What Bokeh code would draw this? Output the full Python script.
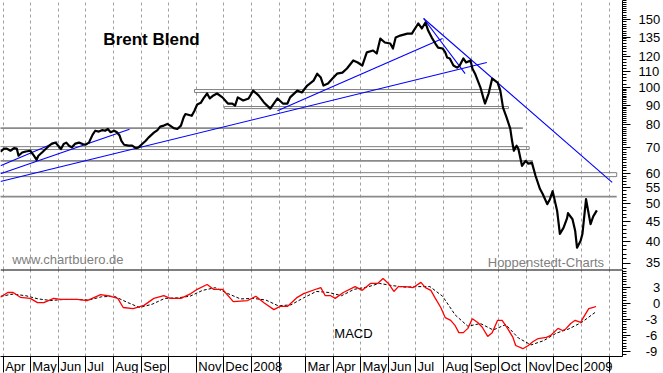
import pandas as pd
from bokeh.plotting import figure
from bokeh.models import Range1d, FixedTicker, Label, Span
from bokeh.layouts import column
from bokeh.embed import file_html
from bokeh.resources import INLINE

# ---------------- data ----------------
price_dates = [
    "2007-03-29", "2007-04-02", "2007-04-05", "2007-04-09", "2007-04-13", "2007-04-16", "2007-04-18", "2007-04-22", "2007-04-26", "2007-05-01",
    "2007-05-05", "2007-05-08", "2007-05-10", "2007-05-14", "2007-05-18", "2007-05-22", "2007-05-25", "2007-05-29", "2007-06-01", "2007-06-04",
    "2007-06-07", "2007-06-10", "2007-06-13", "2007-06-16", "2007-06-20", "2007-06-24", "2007-06-28", "2007-07-01", "2007-07-05", "2007-07-09",
    "2007-07-12", "2007-07-16", "2007-07-20", "2007-07-23", "2007-07-26", "2007-07-29", "2007-08-02", "2007-08-05", "2007-08-08", "2007-08-10",
    "2007-08-13", "2007-08-18", "2007-08-22", "2007-08-26", "2007-08-29", "2007-09-02", "2007-09-06", "2007-09-09", "2007-09-15", "2007-09-19",
    "2007-09-22", "2007-09-26", "2007-09-30", "2007-10-03", "2007-10-07", "2007-10-11", "2007-10-15", "2007-10-18", "2007-10-20", "2007-10-24",
    "2007-10-27", "2007-10-30", "2007-11-02", "2007-11-06", "2007-11-09", "2007-11-13", "2007-11-16", "2007-11-20", "2007-11-24", "2007-11-30",
    "2007-12-06", "2007-12-11", "2007-12-14", "2007-12-17", "2007-12-23", "2007-12-29", "2008-01-03", "2008-01-09", "2008-01-15", "2008-01-22",
    "2008-01-30", "2008-02-05", "2008-02-10", "2008-02-13", "2008-02-21", "2008-02-26", "2008-03-03", "2008-03-10", "2008-03-14", "2008-03-18",
    "2008-03-21", "2008-03-26", "2008-03-31", "2008-04-05", "2008-04-11", "2008-04-16", "2008-04-23", "2008-04-28", "2008-05-03", "2008-05-08",
    "2008-05-15", "2008-05-19", "2008-05-23", "2008-05-28", "2008-06-03", "2008-06-06", "2008-06-09", "2008-06-14", "2008-06-22", "2008-06-27",
    "2008-06-29", "2008-07-04", "2008-07-08", "2008-07-12", "2008-07-15", "2008-07-19", "2008-07-23", "2008-07-26", "2008-07-31", "2008-08-03",
    "2008-08-05", "2008-08-08", "2008-08-12", "2008-08-16", "2008-08-19", "2008-08-23", "2008-08-26", "2008-08-31", "2008-09-02", "2008-09-05",
    "2008-09-11", "2008-09-14", "2008-09-16", "2008-09-20", "2008-09-24", "2008-09-30", "2008-10-03", "2008-10-06", "2008-10-10", "2008-10-14",
    "2008-10-16", "2008-10-18", "2008-10-21", "2008-10-23", "2008-10-27", "2008-10-31", "2008-11-03", "2008-11-07", "2008-11-11", "2008-11-16",
    "2008-11-19", "2008-11-24", "2008-11-27", "2008-11-30", "2008-12-05", "2008-12-08", "2008-12-12", "2008-12-16", "2008-12-17", "2008-12-22",
    "2008-12-25", "2008-12-27", "2008-12-31", "2009-01-02", "2009-01-06", "2009-01-11", "2009-01-14", "2009-01-18",
]
price_values = [
    68.2, 69.5, 69.5, 68.6, 69.7, 69.5, 66.6, 67.9, 68.3, 68.6,
    66.6, 65.0, 66.6, 67.9, 69.3, 70.7, 71.6, 72.0, 70.7, 69.3,
    71.4, 72.0, 70.7, 70.0, 71.6, 72.0, 71.4, 71.1, 72.0, 75.4,
    77.3, 76.9, 77.6, 77.3, 78.1, 76.6, 77.3, 76.6, 75.1, 72.8,
    71.1, 70.7, 70.7, 69.7, 70.0, 71.4, 72.8, 74.2, 76.4, 77.6,
    79.2, 79.7, 80.5, 79.7, 78.5, 78.1, 79.7, 83.7, 85.4, 84.9,
    84.5, 87.1, 90.4, 91.3, 93.7, 96.5, 93.7, 95.4, 96.5, 94.3,
    90.9, 90.9, 89.8, 94.3, 92.6, 93.7, 98.2, 95.4, 91.5, 88.2,
    93.7, 90.9, 90.9, 94.3, 98.2, 97.1, 101.2, 104.2, 108.6, 106.1,
    101.2, 102.4, 105.5, 108.6, 109.3, 112.0, 117.5, 116.1, 114.0, 123.3,
    124.7, 122.5, 133.9, 130.8, 130.0, 126.2, 134.7, 136.3, 137.9, 137.9,
    140.4, 146.5, 142.2, 147.4, 140.4, 134.7, 130.0, 126.9, 126.2, 123.3,
    119.6, 118.9, 114.0, 112.6, 114.0, 118.9, 116.1, 117.5, 112.0, 108.6,
    100.0, 94.3, 90.9, 96.5, 105.5, 103.0, 98.2, 88.7, 83.6, 78.3,
    72.8, 68.6, 70.7, 69.4, 62.7, 64.6, 63.5, 63.9, 59.1, 54.6,
    53.0, 49.9, 51.4, 53.9, 47.9, 41.8, 43.3, 45.9, 47.3, 45.6,
    42.5, 38.5, 40.1, 41.8, 51.4, 44.3, 46.4, 48.1,
]

macd_dates = [
    "2007-03-29", "2007-04-06", "2007-04-12", "2007-04-20", "2007-05-01", "2007-05-09", "2007-05-16", "2007-05-27", "2007-06-04", "2007-06-22",
    "2007-07-03", "2007-07-18", "2007-07-29", "2007-08-06", "2007-08-12", "2007-08-23", "2007-09-04", "2007-09-15", "2007-09-26", "2007-10-03",
    "2007-10-15", "2007-10-26", "2007-11-02", "2007-11-13", "2007-11-20", "2007-11-30", "2007-12-12", "2007-12-28", "2008-01-06", "2008-01-15",
    "2008-01-26", "2008-02-02", "2008-02-10", "2008-02-21", "2008-02-28", "2008-03-14", "2008-03-18", "2008-03-23", "2008-03-29", "2008-04-03",
    "2008-04-12", "2008-04-25", "2008-05-03", "2008-05-12", "2008-05-20", "2008-05-26", "2008-06-01", "2008-06-07", "2008-06-12", "2008-06-20",
    "2008-06-28", "2008-07-07", "2008-07-12", "2008-07-18", "2008-07-23", "2008-07-29", "2008-08-03", "2008-08-09", "2008-08-14", "2008-08-18",
    "2008-08-23", "2008-08-28", "2008-09-02", "2008-09-08", "2008-09-13", "2008-09-19", "2008-09-24", "2008-09-30", "2008-10-05", "2008-10-11",
    "2008-10-17", "2008-10-20", "2008-10-28", "2008-11-03", "2008-11-08", "2008-11-14", "2008-11-23", "2008-11-28", "2008-12-06", "2008-12-11",
    "2008-12-14", "2008-12-20", "2008-12-25", "2008-12-31", "2009-01-03", "2009-01-09", "2009-01-14", "2009-01-17",
]
macd_values = [
    1.1, 2.0, 2.0, 1.1, 0.9, 0.1, 0.1, 0.9, 0.7, 0.7,
    0.5, 1.6, 1.3, 0.9, -0.8, -1.0, -0.4, 0.9, 1.4, 0.9,
    0.9, 1.8, 2.6, 3.5, 2.6, 2.6, 0.3, 0.5, 1.3, 0.1,
    -1.2, -0.6, -0.6, 1.1, 1.8, 2.7, 2.9, 1.4, 1.4, 0.9,
    2.0, 3.1, 2.4, 3.7, 3.7, 4.6, 3.7, 2.2, 3.1, 3.1,
    2.9, 3.9, 2.9, 2.4, 0.9, -0.8, -2.7, -3.2, -4.2, -5.5,
    -5.5, -4.7, -2.9, -3.6, -4.5, -6.2, -5.5, -3.2, -3.2, -4.7,
    -6.4, -7.9, -8.5, -7.9, -7.2, -6.6, -6.4, -6.0, -4.7, -5.1,
    -4.9, -3.8, -3.2, -3.6, -2.7, -1.0, -0.8, -0.6,
]

signal_dates = [
    "2007-03-29", "2007-04-12", "2007-04-26", "2007-05-10", "2007-05-24", "2007-06-07", "2007-06-21", "2007-07-05", "2007-07-19", "2007-08-02",
    "2007-08-16", "2007-08-30", "2007-09-13", "2007-09-27", "2007-10-11", "2007-10-25", "2007-11-08", "2007-11-22", "2007-12-06", "2007-12-20",
    "2008-01-03", "2008-01-17", "2008-01-31", "2008-02-14", "2008-02-28", "2008-03-13", "2008-03-27", "2008-04-10", "2008-04-24", "2008-05-08",
    "2008-05-22", "2008-06-05", "2008-06-19", "2008-07-03", "2008-07-17", "2008-07-31", "2008-08-14", "2008-08-28", "2008-09-11", "2008-09-25",
    "2008-10-09", "2008-10-23", "2008-11-06", "2008-11-20", "2008-12-04", "2008-12-18", "2009-01-01", "2009-01-17",
]
signal_values = [
    1.3, 1.7, 1.4, 0.8, 0.5, 0.7, 0.7, 0.6, 1.2, 1.3,
    0.2, -0.8, -0.2, 0.9, 1.0, 1.3, 2.4, 2.9, 1.8, 0.8,
    0.9, 0.6, -0.5, -0.3, 1.0, 2.2, 2.0, 1.4, 2.6, 3.0,
    3.7, 3.3, 3.0, 3.1, 3.1, 1.3, -2.2, -4.3, -3.8, -5.0,
    -4.0, -6.5, -7.8, -7.0, -5.6, -4.8, -3.6, -1.6,
]

month_labels = ["Apr", "May", "Jun", "Jul", "Aug", "Sep", "", "Nov", "Dec", "2008", "", "Mar",
                "Apr", "May", "Jun", "Jul", "Aug", "Sep", "Oct", "Nov", "Dec", "2009", ""]
price_ticks = [35, 40, 45, 50, 55, 60, 70, 80, 90, 100, 110, 120, 135, 150]
macd_ticks = [3, 0, -3, -6, -9]

# support / resistance zones (boxes) and lines
zone_bottom = [97.1, 88.2, 69.1, 58.8]
zone_top = [98.8, 89.3, 70.3, 60.2]
zone_start = ["2007-10-30", "2007-12-02", "2007-03-01", "2007-03-01"]
zone_end = ["2008-10-03", "2008-10-12", "2008-11-04", "2009-02-09"]
level_value = [78.5, 64.6, 52.2]
level_start = ["2007-03-01", "2007-03-01", "2007-03-01"]
level_end = ["2008-10-28", "2008-11-08", "2009-02-09"]

# blue trend lines
trend_start = ["2007-03-29", "2008-01-30", "2008-07-10", "2008-07-10", "2007-03-29", "2007-03-29"]
trend_start_val = [57.1, 87.1, 150.9, 150.9, 62.7, 59.8]
trend_end = ["2008-09-18", "2008-07-31", "2008-08-25", "2009-02-04", "2007-05-31", "2007-08-19"]
trend_end_val = [116.1, 133.9, 108.6, 56.8, 72.4, 78.0]

# ---------------- layout / style ----------------
FONT = "Liberation Sans"
FRAME_W = 622
X_START = pd.Timestamp("2007-03-29")
X_END = pd.Timestamp("2009-02-15 10:00")


def ms(t):
    return pd.Timestamp(t).timestamp() * 1000.0


xr = Range1d(start=ms(X_START), end=ms(X_END))
px_per_ms = FRAME_W / (ms(X_END) - ms(X_START))

month_starts = pd.date_range("2007-04-01", "2009-02-01", freq="MS")
month_ms = [ms(t) for t in month_starts]

CW = {"A": .667, "p": .556, "r": .333, "M": .833, "a": .556, "y": .5, "J": .5, "u": .556,
      "n": .556, "l": .222, "g": .556, "S": .667, "e": .556, "N": .722, "o": .556, "v": .5,
      "D": .722, "c": .5, "O": .778, "t": .278}


def text_w(s, size=13):
    return sum(CW.get(ch, 0.556) for ch in s) * size


label_ticks, label_over = [], {}
for t, lab in zip(month_ms, month_labels):
    if not lab:
        continue
    c = round(t + (2 + text_w(lab) / 2) / px_per_ms)
    label_ticks.append(c)
    label_over[c] = lab

FS = "\u2007"


def pad(s, n):
    return FS * (n - len(s)) + s


grid_kw = dict(grid_line_color="#a0a0a0", grid_line_dash="3 3", grid_line_width=1)

# ---------------- price panel ----------------
p1 = figure(frame_width=FRAME_W, frame_height=269, x_range=xr, y_range=Range1d(33.8, 168),
            x_axis_type="datetime", y_axis_type="log", x_axis_location=None, y_axis_location="right",
            output_backend="svg", toolbar_location=None, min_border_left=0, min_border_top=0,
            min_border_bottom=0, min_border_right=41, outline_line_color=None,
            background_fill_color="white", border_fill_color="white")
p1.xgrid.ticker = FixedTicker(ticks=month_ms)
p1.xgrid.update(**grid_kw)
p1.ygrid.visible = False

minor_price = list(range(34, 100)) + list(range(100, 169, 2))
ay = p1.yaxis[0]
ay.ticker = FixedTicker(ticks=price_ticks, minor_ticks=minor_price)
ay.major_label_overrides = {v: pad(str(v), 3) for v in price_ticks}
ay.update(major_tick_out=8, major_tick_in=0, minor_tick_out=4, minor_tick_in=0,
          major_label_standoff=8, major_label_text_font=FONT, major_label_text_font_size="13px",
          major_label_text_color="black", axis_line_color="black", major_tick_line_color="black",
          minor_tick_line_color="black")

pd_dates = pd.to_datetime(price_dates)
for b, t, s, e in zip(zone_bottom, zone_top, zone_start, zone_end):
    p1.quad(left=[pd.Timestamp(s)], right=[pd.Timestamp(e)], bottom=[b], top=[t],
            fill_color=None, line_color="#808080", line_width=1)
p1.segment(x0=pd.to_datetime(level_start), x1=pd.to_datetime(level_end), y0=level_value,
           y1=level_value, line_color="#8a8a8a", line_width=1.6)
p1.segment(x0=pd.to_datetime(trend_start), y0=trend_start_val, x1=pd.to_datetime(trend_end),
           y1=trend_end_val, line_color="#0000ff", line_width=1.1)
p1.line(pd_dates, price_values, line_color="black", line_width=2.2, line_join="round")

p1.add_layout(Label(x=ms("2007-07-21"), y=133, text="Brent Blend", text_font=FONT,
                    text_font_size="17px", text_font_style="bold", text_color="black",
                    text_baseline="alphabetic"))
p1.add_layout(Label(x=ms("2007-04-11"), y=35.8, text="www.chartbuero.de", text_font=FONT,
                    text_font_size="13px", text_color="#808080", text_baseline="alphabetic"))
p1.add_layout(Label(x=ms("2009-01-26"), y=35.3, text="Hoppenstedt-Charts", text_font=FONT,
                    text_font_size="13px", text_color="#808080", text_baseline="alphabetic",
                    text_align="right"))

# ---------------- MACD panel ----------------
p2 = figure(frame_width=FRAME_W, frame_height=87, x_range=xr, y_range=Range1d(-9.96, 6.3),
            x_axis_type="datetime", y_axis_location="right",
            output_backend="svg", toolbar_location=None, min_border_left=0, min_border_top=0,
            min_border_bottom=0, min_border_right=41, outline_line_color=None,
            background_fill_color="white", border_fill_color="white")
p2.xgrid.ticker = FixedTicker(ticks=month_ms)
p2.xgrid.update(**grid_kw)
p2.ygrid.visible = False

ax = p2.xaxis[0]
ax.ticker = FixedTicker(ticks=label_ticks, minor_ticks=month_ms)
ax.major_label_overrides = label_over
ax.update(major_tick_out=0, major_tick_in=0, minor_tick_out=16, minor_tick_in=0,
          major_label_standoff=-14, major_label_text_font=FONT, major_label_text_font_size="13px",
          major_label_text_color="black", axis_line_color="black", minor_tick_line_color="black",
          minor_tick_line_width=1)

ay2 = p2.yaxis[0]
minor_macd = [x / 2 for x in range(-20, 13)]
ay2.ticker = FixedTicker(ticks=macd_ticks, minor_ticks=minor_macd)
ay2.major_label_overrides = {v: pad(str(v), 3) if v >= 0 else FS + str(v) for v in macd_ticks}
ay2.update(major_tick_out=8, major_tick_in=0, minor_tick_out=4, minor_tick_in=0,
           major_label_standoff=8, major_label_text_font=FONT, major_label_text_font_size="13px",
           major_label_text_color="black", axis_line_color="black", major_tick_line_color="black",
           minor_tick_line_color="black")

p2.add_layout(Span(location=6.3, dimension="width", line_color="black", line_width=2))
p2.line(pd.to_datetime(signal_dates), signal_values, line_color="black", line_width=1,
        line_dash="3 2")
p2.line(pd.to_datetime(macd_dates), macd_values, line_color="#ff0000", line_width=1.3)
p2.add_layout(Label(x=ms("2008-04-02"), y=-5.7, text="MACD", text_font=FONT,
                    text_font_size="13px", text_color="black", text_baseline="alphabetic"))

layout = column(p1, p2)
open("out.html", "w").write(file_html(layout, INLINE))
